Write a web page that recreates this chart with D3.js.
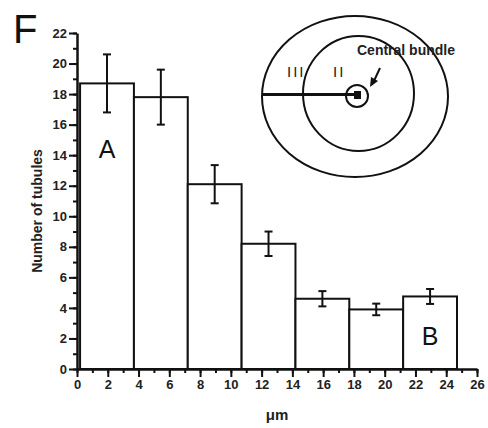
<!DOCTYPE html>
<html>
<head>
<meta charset="utf-8">
<script src="https://cdn.jsdelivr.net/npm/d3@7"></script>
<style>
    body { margin: 0; background: #fff; }
    svg { display: block; font-family: "Liberation Sans", Arial, sans-serif; }
    .tick text { font-size: 13px; font-weight: bold; fill: #222; }
</style>
</head>
<body>
<div id="chart"></div>
<script>
// bins (in um) and values
var binStart = [0.2, 3.7, 7.2, 10.7, 14.2, 17.7, 21.2];
var binEnd   = [3.7, 7.2, 10.7, 14.2, 17.7, 21.2, 24.7];
var counts   = [18.7, 17.8, 12.1, 8.2, 4.6, 3.9, 4.75];
var errors   = [1.9, 1.8, 1.25, 0.8, 0.5, 0.38, 0.49];
var xTicks   = [0, 2, 4, 6, 8, 10, 12, 14, 16, 18, 20, 22, 24, 26];
var yTicks   = [0, 2, 4, 6, 8, 10, 12, 14, 16, 18, 20, 22];
var barLetters = [{bin: 0, text: "A", at: 13.8}, {bin: 6, text: "B", at: 1.55}];

var W = 488, H = 428;
var margin = {top: 33, right: 11, bottom: 59, left: 77},
    width = W - margin.left - margin.right,
    height = H - margin.top - margin.bottom;

var data = binStart.map(function(s, i) {
    return {x0: s, x1: binEnd[i], value: counts[i], err: errors[i]};
});

var root = d3.select("#chart").append("svg")
    .attr("width", W)
    .attr("height", H);

var svg = root.append("g")
    .attr("transform", "translate(" + margin.left + "," + margin.top + ")");

// set the ranges
var x = d3.scaleLinear().domain([0, 26]).range([0, width]);
var y = d3.scaleLinear().domain([0, 22]).range([height, 0]);

// bars
svg.selectAll("rect.bar")
    .data(data)
    .enter().append("rect")
    .attr("class", "bar")
    .attr("x", function(d) { return x(d.x0); })
    .attr("width", function(d) { return x(d.x1) - x(d.x0); })
    .attr("y", function(d) { return y(d.value); })
    .attr("height", function(d) { return height - y(d.value); })
    .style("fill", "#fff")
    .style("stroke", "#111")
    .style("stroke-width", 2);

// error bars
var errG = svg.selectAll("g.err")
    .data(data)
    .enter().append("g")
    .attr("class", "err")
    .style("stroke", "#111")
    .style("stroke-width", 2);

function cx(d) { return x((d.x0 + d.x1) / 2); }

errG.append("line")
    .attr("x1", cx).attr("x2", cx)
    .attr("y1", function(d) { return y(d.value + d.err); })
    .attr("y2", function(d) { return y(d.value - d.err); });
errG.append("line")
    .attr("x1", function(d) { return cx(d) - 4; })
    .attr("x2", function(d) { return cx(d) + 4; })
    .attr("y1", function(d) { return y(d.value + d.err); })
    .attr("y2", function(d) { return y(d.value + d.err); });
errG.append("line")
    .attr("x1", function(d) { return cx(d) - 4; })
    .attr("x2", function(d) { return cx(d) + 4; })
    .attr("y1", function(d) { return y(d.value - d.err); })
    .attr("y2", function(d) { return y(d.value - d.err); });

// A / B letters inside bars
svg.selectAll("text.letter")
    .data(barLetters)
    .enter().append("text")
    .attr("class", "letter")
    .attr("x", function(d) { return cx(data[d.bin]); })
    .attr("y", function(d) { return y(d.at); })
    .attr("text-anchor", "middle")
    .style("font-size", "25px")
    .style("fill", "#111")
    .text(function(d) { return d.text; });

// Add the X Axis (major + minor)
svg.append("g")
    .attr("transform", "translate(0," + height + ")")
    .call(d3.axisBottom(x).tickValues(d3.range(0, 27, 1)).tickSize(4).tickFormat(""))
    .call(function(g) { g.select(".domain").remove(); })
    .selectAll("line").style("stroke", "#111").style("stroke-width", 2);

svg.append("g")
    .attr("class", "xAxis")
    .attr("transform", "translate(0," + height + ")")
    .call(d3.axisBottom(x).tickValues(xTicks).tickSize(8).tickSizeOuter(0).tickPadding(3))
    .call(function(g) {
        g.select(".domain").style("stroke", "#111").style("stroke-width", 2.5);
        g.selectAll("line").style("stroke", "#111").style("stroke-width", 2);
    });

// Add the Y Axis (major + minor)
svg.append("g")
    .call(d3.axisLeft(y).tickValues(d3.range(0, 23, 1)).tickSize(4).tickFormat(""))
    .call(function(g) { g.select(".domain").remove(); })
    .selectAll("line").style("stroke", "#111").style("stroke-width", 2);

svg.append("g")
    .attr("class", "yAxis")
    .call(d3.axisLeft(y).tickValues(yTicks).tickSize(8).tickSizeOuter(0).tickPadding(2))
    .call(function(g) {
        g.select(".domain").style("stroke", "#111").style("stroke-width", 2.5);
        g.selectAll("line").style("stroke", "#111").style("stroke-width", 2);
    });

// axis titles
svg.append("text")
    .attr("transform", "translate(" + (-35) + "," + (height / 2 + 10) + ") rotate(-90)")
    .attr("text-anchor", "middle")
    .style("font-size", "14px")
    .style("font-weight", "bold")
    .style("fill", "#222")
    .text("Number of tubules");

svg.append("text")
    .attr("x", width / 2)
    .attr("y", height + 51)
    .attr("text-anchor", "middle")
    .style("font-size", "15px")
    .style("font-weight", "bold")
    .style("fill", "#222")
    .text("μm");

// panel letter
root.append("text")
    .attr("x", 13)
    .attr("y", 43)
    .style("font-size", "40px")
    .style("fill", "#111")
    .text("F");

// inset diagram
var inset = root.append("g")
    .attr("transform", "translate(357,96)")
    .style("fill", "none")
    .style("stroke", "#111");

inset.append("ellipse")
    .attr("cx", -2).attr("cy", 0.5).attr("rx", 93).attr("ry", 80.5)
    .style("stroke-width", 2);
inset.append("ellipse")
    .attr("cx", 1.5).attr("cy", -2.5).attr("rx", 55.5).attr("ry", 57.5)
    .style("stroke-width", 2);
inset.append("circle")
    .attr("r", 11)
    .style("stroke-width", 2);
inset.append("line")
    .attr("x1", -95).attr("x2", 0).attr("y1", -1.5).attr("y2", -1.5)
    .style("stroke-width", 3);
inset.append("rect")
    .attr("x", -3).attr("y", -5).attr("width", 7).attr("height", 8)
    .style("fill", "#111").style("stroke", "none");
inset.append("line")
    .attr("x1", 23).attr("y1", -28).attr("x2", 16).attr("y2", -13)
    .style("stroke-width", 2);
inset.append("path")
    .attr("d", "M13,-9 L14,-19 L21,-15 Z")
    .style("fill", "#111").style("stroke", "none");

inset.append("text")
    .attr("x", 0).attr("y", -41)
    .style("font-size", "14px")
    .style("font-weight", "bold")
    .style("fill", "#222").style("stroke", "none")
    .text("Central bundle");
inset.append("text")
    .attr("x", -70).attr("y", -19)
    .style("font-size", "15px")
    .style("letter-spacing", "2px")
    .style("fill", "#222").style("stroke", "none")
    .text("III");
inset.append("text")
    .attr("x", -24).attr("y", -19)
    .style("font-size", "15px")
    .style("letter-spacing", "2px")
    .style("fill", "#222").style("stroke", "none")
    .text("II");
</script>
</body>
</html>
